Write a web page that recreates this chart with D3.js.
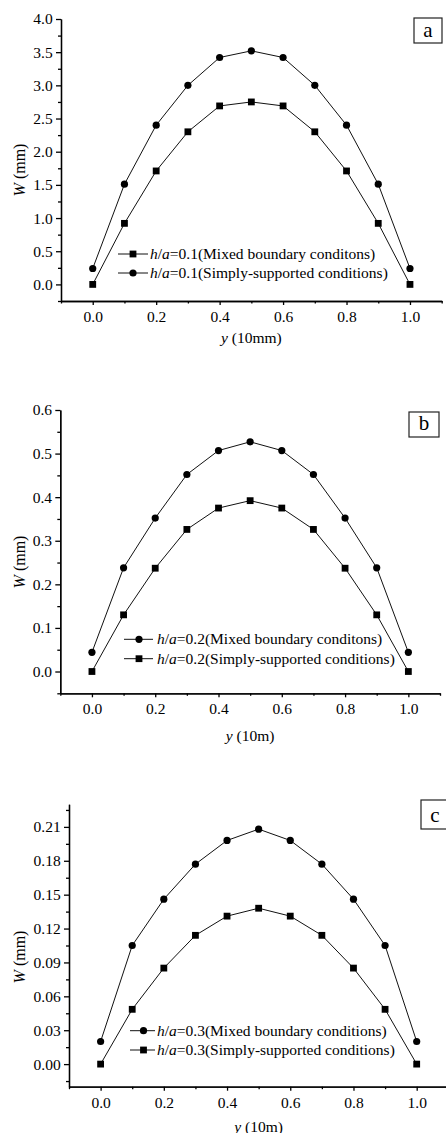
<!DOCTYPE html>
<html>
<head>
<meta charset="utf-8">
<script src="https://cdn.jsdelivr.net/npm/d3@7"></script>
<style>
    body { margin: 0; background: #fff; }
    svg { display: block; }
    text { font-family: "Liberation Serif", "Times New Roman", serif; fill: #000; }
</style>
</head>
<body>
<div id="chart"></div>
<script>
// positions along the plate (y)
const yPositions = [0.0, 0.1, 0.2, 0.3, 0.4, 0.5, 0.6, 0.7, 0.8, 0.9, 1.0];

// panel a, h/a = 0.1
const mixedA = [0.00, 0.92, 1.71, 2.30, 2.69, 2.75, 2.69, 2.30, 1.71, 0.92, 0.00];
const simplyA = [0.24, 1.51, 2.40, 3.00, 3.42, 3.52, 3.42, 3.00, 2.40, 1.51, 0.24];

// panel b, h/a = 0.2
const mixedB = [0.044, 0.238, 0.352, 0.452, 0.507, 0.527, 0.507, 0.452, 0.352, 0.238, 0.044];
const simplyB = [0.000, 0.130, 0.237, 0.326, 0.375, 0.392, 0.375, 0.326, 0.237, 0.130, 0.000];

// panel c, h/a = 0.3
const mixedC = [0.020, 0.105, 0.146, 0.177, 0.198, 0.208, 0.198, 0.177, 0.146, 0.105, 0.020];
const simplyC = [0.000, 0.0485, 0.085, 0.114, 0.131, 0.138, 0.131, 0.114, 0.085, 0.0485, 0.000];

// ticks
const xTicks = [0.0, 0.2, 0.4, 0.6, 0.8, 1.0];
const xMinorTicks = [-0.1, 0.1, 0.3, 0.5, 0.7, 0.9, 1.1];
const yTicksA = [0.0, 0.5, 1.0, 1.5, 2.0, 2.5, 3.0, 3.5, 4.0];
const yMinorTicksA = [-0.25, 0.25, 0.75, 1.25, 1.75, 2.25, 2.75, 3.25, 3.75];
const yTicksB = [0.0, 0.1, 0.2, 0.3, 0.4, 0.5, 0.6];
const yMinorTicksB = [-0.05, 0.05, 0.15, 0.25, 0.35, 0.45, 0.55];
const yTicksC = [0.00, 0.03, 0.06, 0.09, 0.12, 0.15, 0.18, 0.21];
const yMinorTicksC = [-0.015, 0.015, 0.045, 0.075, 0.105, 0.135, 0.165, 0.195, 0.225];

const FONT = 15.5;

function addText(g, x, y, parts, anchor) {
    let t = g.append("text")
        .attr("x", x)
        .attr("y", y)
        .attr("font-size", FONT)
        .attr("text-anchor", anchor || "start");
    parts.forEach(p => {
        t.append("tspan")
            .attr("font-style", p[1] ? "italic" : "normal")
            .text(p[0]);
    });
    return t;
}

class DeflectionPanel {

    constructor(svg, config) {
        this.svg = svg;
        this.config = config;
        this.initVis();
    }

    initVis() {
        let vis = this;
        let c = vis.config;

        vis.g = vis.svg.append("g").attr("class", "panel");

        vis.x = d3.scaleLinear()
            .domain([-0.1, 1.1])
            .range(c.xRange);
        vis.y = d3.scaleLinear()
            .domain(c.yDomain)
            .range(c.yRange);

        // minor ticks first, majors on top
        vis.g.append("g")
            .attr("transform", `translate(0,${c.yRange[0]})`)
            .call(d3.axisBottom(vis.x).tickValues(xMinorTicks).tickFormat("").tickSize(2.5).tickSizeOuter(0));
        vis.g.append("g")
            .attr("transform", `translate(${c.xRange[0]},0)`)
            .call(d3.axisLeft(vis.y).tickValues(c.yMinor).tickFormat("").tickSize(3).tickSizeOuter(0));

        vis.xAxisG = vis.g.append("g")
            .attr("class", "x-axis axis")
            .attr("transform", `translate(0,${c.yRange[0]})`)
            .call(d3.axisBottom(vis.x).tickValues(xTicks).tickFormat(d3.format(".1f")).tickSize(4).tickSizeOuter(0));
        vis.yAxisG = vis.g.append("g")
            .attr("class", "y-axis axis")
            .attr("transform", `translate(${c.xRange[0]},0)`)
            .call(d3.axisLeft(vis.y).tickValues(c.yTicks).tickFormat(d3.format(c.yFormat)).tickSize(5).tickSizeOuter(0));

        vis.g.selectAll(".domain, .tick line")
            .attr("stroke", "#000")
            .attr("stroke-width", 1.3);
        vis.g.selectAll(".axis")
            .attr("font-family", null)
            .attr("font-size", FONT);
        vis.xAxisG.selectAll(".tick text")
            .attr("y", 10);
        vis.yAxisG.selectAll(".tick text")
            .attr("x", -8.3);

        // axis titles
        addText(vis.g, vis.x(0.5), c.xLabelY, [["y", true], [" (" + c.unit + ")", false]], "middle");
        let yl = vis.g.append("text")
            .attr("transform", `translate(25,${c.yLabelY}) rotate(-90)`)
            .attr("font-size", 16)
            .attr("text-anchor", "middle");
        yl.append("tspan").attr("font-style", "italic").text("W");
        yl.append("tspan").text(" (mm)");

        // panel letter box
        vis.g.append("rect")
            .attr("x", c.box[0]).attr("y", c.box[1])
            .attr("width", c.box[2]).attr("height", c.box[3])
            .attr("fill", "none")
            .attr("stroke", "#222")
            .attr("stroke-width", 1.2);
        vis.g.append("text")
            .attr("x", c.letterPos[0]).attr("y", c.letterPos[1])
            .attr("font-size", 21)
            .attr("text-anchor", "middle")
            .text(c.letter);

        vis.wrangleData();
    }

    wrangleData() {
        let vis = this;
        vis.series = vis.config.series.map(s => ({
            marker: s.marker,
            label: s.label,
            values: yPositions.map((p, i) => ({pos: p, w: s.values[i]}))
        }));
        vis.updateVis();
    }

    updateVis() {
        let vis = this;
        let c = vis.config;

        let line = d3.line()
            .x(d => vis.x(d.pos))
            .y(d => vis.y(d.w));

        vis.series.forEach((s, k) => {
            vis.g.append("path")
                .datum(s.values)
                .attr("class", "line")
                .attr("fill", "none")
                .attr("stroke", "#111")
                .attr("stroke-width", 1)
                .attr("d", line);

            vis.drawMarkers(vis.g, s.values.map(d => [vis.x(d.pos), vis.y(d.w)]), s.marker);

            // legend row
            let ly = c.legend.y[k];
            vis.g.append("line")
                .attr("x1", c.legend.x0).attr("x2", c.legend.x1)
                .attr("y1", ly).attr("y2", ly)
                .attr("stroke", "#111")
                .attr("stroke-width", 1);
            vis.drawMarkers(vis.g, [[c.legend.xm, ly]], s.marker);
            addText(vis.g, c.legend.tx, ly + 5, [
                ["h", true], ["/", false], ["a", true], ["=" + c.ratio + "(" + s.label + ")", false]
            ]);
        });
    }

    drawMarkers(g, pts, marker) {
        if (marker === "square") {
            g.selectAll(null).data(pts).enter().append("rect")
                .attr("x", d => d[0] - 3.4)
                .attr("y", d => d[1] - 3.4)
                .attr("width", 6.8)
                .attr("height", 6.8)
                .attr("fill", "#000");
        } else {
            g.selectAll(null).data(pts).enter().append("circle")
                .attr("cx", d => d[0])
                .attr("cy", d => d[1])
                .attr("r", 3.6)
                .attr("fill", "#000");
        }
    }
}

let svg = d3.select("#chart").append("svg")
    .attr("width", 446)
    .attr("height", 1133);

new DeflectionPanel(svg, {
    xRange: [61, 441.7], yDomain: [-0.25, 4.0], yRange: [301, 19],
    yTicks: yTicksA, yMinor: yMinorTicksA, yFormat: ".1f",
    unit: "10mm", xLabelY: 343, yLabelY: 170,
    box: [414, 18, 28, 25], letter: "a", letterPos: [428, 36.5],
    ratio: "0.1",
    legend: {x0: 118, x1: 148, xm: 133, tx: 150, y: [254, 273]},
    series: [
        {marker: "square", label: "Mixed boundary conditons", values: mixedA},
        {marker: "circle", label: "Simply-supported conditions", values: simplyA}
    ]
});

new DeflectionPanel(svg, {
    xRange: [60.3, 440], yDomain: [-0.05, 0.6], yRange: [693.3, 410],
    yTicks: yTicksB, yMinor: yMinorTicksB, yFormat: ".1f",
    unit: "10m", xLabelY: 741, yLabelY: 562,
    box: [409, 412, 30, 25], letter: "b", letterPos: [424, 430],
    ratio: "0.2",
    legend: {x0: 124, x1: 153, xm: 139, tx: 157, y: [639.3, 658.7]},
    series: [
        {marker: "circle", label: "Mixed boundary conditons", values: mixedB},
        {marker: "square", label: "Simply-supported conditions", values: simplyB}
    ]
});

new DeflectionPanel(svg, {
    xRange: [69, 448.3], yDomain: [-0.02, 0.23], yRange: [1086.7, 804.3],
    yTicks: yTicksC, yMinor: yMinorTicksC, yFormat: ".2f",
    unit: "10m", xLabelY: 1131.5, yLabelY: 957,
    box: [421, 800, 30, 29], letter: "c", letterPos: [435, 821.5],
    ratio: "0.3",
    legend: {x0: 130, x1: 155, xm: 143.5, tx: 157, y: [1030.7, 1050]},
    series: [
        {marker: "circle", label: "Mixed boundary conditions", values: mixedC},
        {marker: "square", label: "Simply-supported conditions", values: simplyC}
    ]
});
</script>
</body>
</html>
